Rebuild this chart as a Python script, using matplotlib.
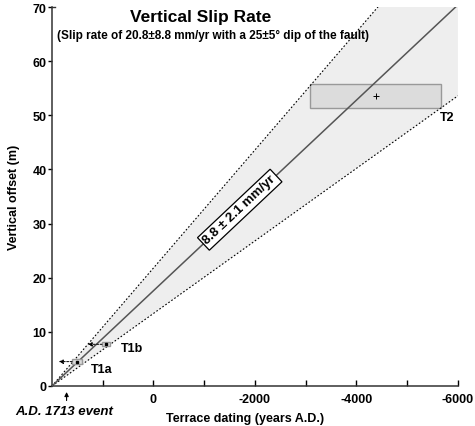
import numpy as np
import matplotlib
matplotlib.use('Agg')
from matplotlib import pyplot as plt
from matplotlib.patches import Rectangle

plt.rcParams['font.family'] = ['Liberation Sans', 'DejaVu Sans']
plt.rcParams['font.weight'] = 'bold'
plt.rcParams['axes.unicode_minus'] = False

# slip rates (mm/yr == m/kyr), reference year for zero offset
REF_YEAR = 2000
rate_mean = 8.8
rate_err = 2.1

# terrace samples: name, age (years A.D.), age error, offset (m), offset error
terrace_names = ['T1a', 'T1b', 'T2']
terrace_years = [1505, 935, -4380]
terrace_year_err = [100, 80, 1290]
terrace_offsets = [4.5, 7.7, 53.6]
terrace_offset_err = [0.45, 0.4, 2.2]

event_year = 1713
x_major = [0, -2000, -4000, -6000]
x_minor = [1000, -1000, -3000, -5000]
y_ticks = [0, 10, 20, 30, 40, 50, 60, 70]


def offset_at(year, rate):
    return (REF_YEAR - np.asarray(year, dtype=float)) / 1000.0 * rate


fig = plt.figure(figsize=(4.75, 4.27), dpi=100)
ax = fig.add_axes([0.1095, 0.0937, 0.8545, 0.8875])

years = np.array([REF_YEAR, -6000])
ax.fill_between(years, offset_at(years, rate_mean - rate_err),
                offset_at(years, rate_mean + rate_err),
                color='#eeeeee', lw=0, zorder=1)
for r in (rate_mean - rate_err, rate_mean + rate_err):
    ax.plot(years, offset_at(years, r), color='black', lw=0.8,
            dashes=(1.5, 1.8), zorder=3)
ax.plot(years, offset_at(years, rate_mean), color='#555555', lw=1.1, zorder=4)

# terrace boxes
for name, yr, ye, off, oe in zip(terrace_names, terrace_years, terrace_year_err,
                                 terrace_offsets, terrace_offset_err):
    ax.add_patch(Rectangle((yr - ye, off - oe), 2 * ye, 2 * oe,
                           facecolor='#dcdcdc', edgecolor='#999999', lw=1,
                           zorder=2 if name == 'T2' else 5))
    if name == 'T2':
        ax.plot(yr, off, marker='+', color='black', ms=4, mew=0.7, zorder=6)
    else:
        ax.plot(yr, off, marker='s', color='black', ms=1.5, zorder=6)
        ax.annotate('', xy=(yr + 360, off), xytext=(yr + ye, off),
                    arrowprops=dict(arrowstyle='-|>', color='black', lw=0.7,
                                    ls=(0, (2, 1.5)), mutation_scale=6,
                                    shrinkA=0, shrinkB=0), zorder=6)

ax.text(1240, 3.1, 'T1a', fontsize=9, fontweight='bold', ha='left', va='center')
ax.text(650, 7.1, 'T1b', fontsize=9, fontweight='bold', ha='left', va='center')
ax.text(-5640, 49.6, 'T2', fontsize=9, fontweight='bold', ha='left', va='center')

mid_year = -1700
ax.text(mid_year, offset_at(mid_year, rate_mean), '8.8 \u00b1 2.1 mm/yr',
        fontsize=9.5, fontweight='bold', rotation=43.3, rotation_mode='anchor',
        ha='center', va='center', zorder=7,
        bbox=dict(boxstyle='square,pad=0.2', facecolor='white',
                  edgecolor='black', lw=0.9))

ax.set_xlim(REF_YEAR, -6000)
ax.set_ylim(0, 70)
ax.set_xticks(x_major)
ax.set_xticks(x_minor, minor=True)
ax.set_yticks(y_ticks)
ax.tick_params(axis='x', which='both', direction='in', length=4, width=1,
               labelsize=9, pad=5)
ax.tick_params(axis='y', direction='out', length=3, width=1, labelsize=9, pad=1)
for lab in ax.get_xticklabels() + ax.get_yticklabels():
    lab.set_fontweight('bold')
for side in ('top', 'right'):
    ax.spines[side].set_visible(False)
for side in ('left', 'bottom'):
    ax.spines[side].set_linewidth(1.1)
    ax.spines[side].set_color('#333333')
ax.plot([REF_YEAR, REF_YEAR - 60], [70, 70], color='#333333', lw=1,
        clip_on=False)

ax.set_ylabel('Vertical offset (m)', fontsize=9, fontweight='bold')
ax.yaxis.set_label_coords(-0.08, 0.5)
ax.set_xlabel('Terrace dating (years A.D.)', fontsize=9, fontweight='bold')
ax.xaxis.set_label_coords(0.475, -0.069)

ax.annotate('', xy=(event_year, -0.6), xytext=(event_year, -3.2),
            xycoords='data', arrowprops=dict(arrowstyle='-|>', color='black',
                                             lw=0.8, mutation_scale=6),
            annotation_clip=False)
ax.text(event_year + 50, -3.6, 'A.D. 1713 event', fontsize=9.5, fontweight='bold',
        style='italic', ha='center', va='top')

ax.text(0.365, 0.975, 'Vertical Slip Rate', transform=ax.transAxes,
        fontsize=12.5, fontweight='bold', ha='center', va='center')
ax.text(0.397, 0.925, '(Slip rate of 20.8\u00b18.8 mm/yr with a 25\u00b15\u00b0 dip of the fault)',
        transform=ax.transAxes, fontsize=8.5, fontweight='bold',
        ha='center', va='center')

fig.savefig('out.png', dpi=100)
